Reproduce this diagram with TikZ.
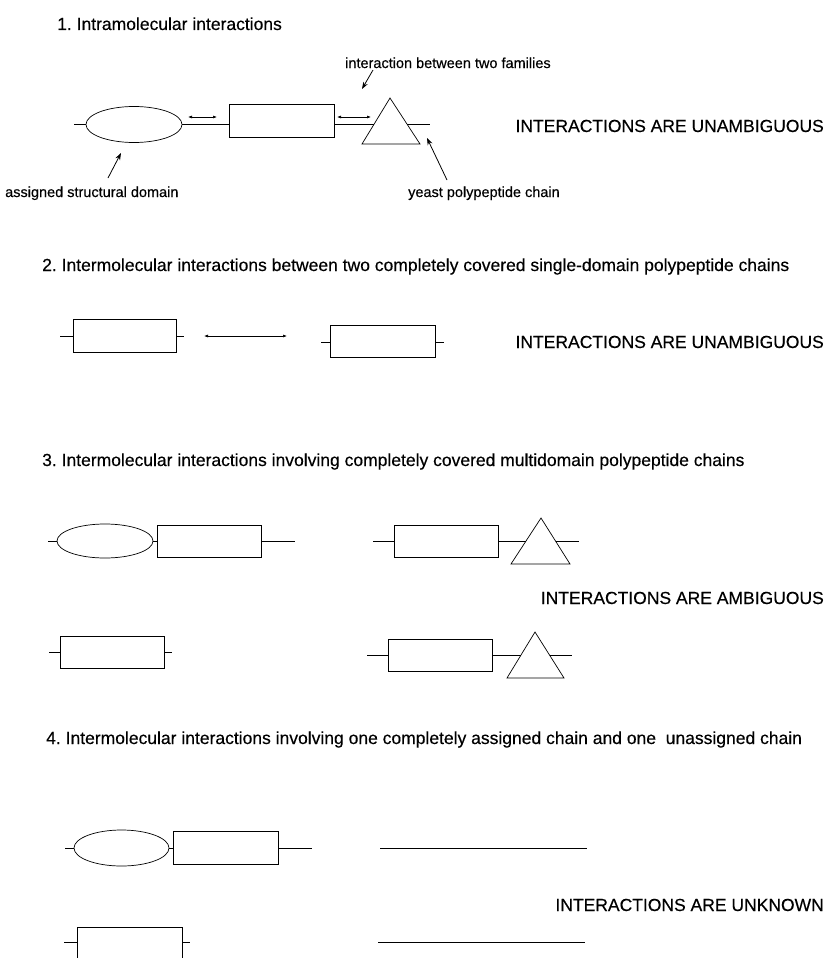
\documentclass[tikz,border=0pt]{standalone}
\usepackage{fontspec}
\setmainfont[FakeBold=0.35]{Liberation Sans}
\usetikzlibrary{shapes.geometric,arrows.meta}
\frenchspacing
\tikzset{
  px/.style={x=1pt,y=-1pt},
  chain/.style={line width=0.7pt},
  boxdom/.style={draw,line width=0.7pt,rectangle,inner sep=0pt,minimum width=#1},
  boxdom/.default=104pt,
  elldom/.style={draw,line width=0.7pt,ellipse,inner sep=0pt,minimum width=96pt,minimum height=35pt},
  tri/.style={draw,line width=0.7pt,line join=miter},
  title/.style={anchor=base west,inner sep=0pt,font=\fontsize{17.5}{20}\selectfont},
  verdict/.style={anchor=base east,inner sep=0pt,font=\fontsize{17.5}{20}\selectfont},
  lab/.style={anchor=base west,inner sep=0pt,font=\fontsize{14.5}{17}\selectfont},
  labarrow/.style={line width=0.8pt,-{Stealth[length=7pt,width=5pt]}},
  dblarrow/.style={line width=0.6pt,{Latex[length=4pt,width=3pt]}-{Latex[length=4pt,width=3pt]}}
}
\begin{document}
\begin{tikzpicture}[px]
\useasboundingbox (0,0) rectangle (831,958);
% ---------- Section 1 ----------
\node[title] (t1) at (57,30) {1. Intramolecular interactions};
\node[lab] (lfam) at (345,68) {interaction between two families};
\node[lab] (ldom) at (5,197) {assigned structural domain};
\node[lab] (lyea) at (408,197) {yeast polypeptide chain};
\node[verdict] (v1) at (824,132) {INTERACTIONS ARE UNAMBIGUOUS};
\node[elldom,minimum height=36pt] (e1) at (134,124.5) {};
\node[boxdom=105pt,minimum height=33pt] (r1) at (281.5,121) {};
\coordinate (t1a) at (390,98);
\coordinate (t1b) at (362,144);
\coordinate (t1c) at (420,144);
\draw[tri] (t1a) -- (t1b) -- (t1c) -- cycle;
\coordinate (t1l) at (374.2,124.5);
\coordinate (t1r) at (407,124.5);
\coordinate (c1s) at (74,124.5);
\coordinate (c1e) at (430,124.5);
\draw[chain] (c1s) -- (e1.west);
\draw[chain] (e1.east) -- (e1.east -| r1.west);
\draw[chain] (r1.east |- t1l) -- (t1l);
\draw[chain] (t1r) -- (c1e);
\coordinate (d1a) at (188,117);
\coordinate (d1b) at (217,117);
\coordinate (d2a) at (337,117);
\coordinate (d2b) at (371,117);
\draw[dblarrow] (d1a) -- (d1b);
\draw[dblarrow] (d2a) -- (d2b);
\coordinate (p1s) at (373,70);
\coordinate (p1e) at (362,89);
\draw[labarrow] (p1s) -- (p1e);
\coordinate (p2s) at (108,178);
\coordinate (p2e) at (121,153);
\draw[labarrow] (p2s) -- (p2e);
\coordinate (p3s) at (447,180);
\coordinate (p3e) at (427,138);
\draw[labarrow] (p3s) -- (p3e);
% ---------- Section 2 ----------
\node[title] (t2) at (42,271) {2. Intermolecular interactions between two completely covered single-domain polypeptide chains};
\node[verdict] (v2) at (824,348) {INTERACTIONS ARE UNAMBIGUOUS};
\node[boxdom=103pt,minimum height=33pt] (r2a) at (124.5,335.5) {};
\node[boxdom=105pt,minimum height=32pt] (r2b) at (382.5,341) {};
\coordinate (c2a) at (60,336);
\coordinate (c2b) at (184,336);
\coordinate (c2c) at (321,342);
\coordinate (c2d) at (444,342);
\draw[chain] (c2a) -- (c2a -| r2a.west);
\draw[chain] (c2b -| r2a.east) -- (c2b);
\draw[chain] (c2c) -- (c2c -| r2b.west);
\draw[chain] (c2d -| r2b.east) -- (c2d);
\coordinate (d3a) at (204,336);
\coordinate (d3b) at (287,336);
\draw[dblarrow] (d3a) -- (d3b);
% ---------- Section 3 ----------
\node[title] (t3) at (42,466) {3. Intermolecular interactions involving completely covered multidomain polypeptide chains};
\node[verdict] (v3) at (824,604) {INTERACTIONS ARE AMBIGUOUS};
% row 1 left
\node[elldom,minimum height=34pt] (e3a) at (105,541) {};
\node[boxdom=104pt,minimum height=32pt] (r3a) at (209,541) {};
\coordinate (c3a) at (48,541);
\coordinate (c3b) at (295,541);
\draw[chain] (c3a) -- (e3a.west);
\draw[chain] (e3a.east) -- (r3a.west);
\draw[chain] (r3a.east) -- (c3b);
% row 1 right
\node[boxdom=104pt,minimum height=32pt] (r3b) at (446,541) {};
\coordinate (t3a) at (541,518);
\coordinate (t3b) at (511,564);
\coordinate (t3c) at (570,564);
\draw[tri] (t3a) -- (t3b) -- (t3c) -- cycle;
\coordinate (t3l) at (526,541);
\coordinate (t3r) at (555.5,541);
\coordinate (c3c) at (373,541);
\coordinate (c3d) at (579,541);
\draw[chain] (c3c) -- (r3b.west);
\draw[chain] (r3b.east) -- (t3l);
\draw[chain] (t3r) -- (c3d);
% row 2 left
\node[boxdom=104pt,minimum height=32pt] (r3c) at (112,652) {};
\coordinate (c3e) at (49,652);
\coordinate (c3f) at (172,652);
\draw[chain] (c3e) -- (r3c.west);
\draw[chain] (r3c.east) -- (c3f);
% row 2 right
\node[boxdom=104pt,minimum height=32pt] (r3d) at (440,655) {};
\coordinate (t4a) at (535,632);
\coordinate (t4b) at (507,678);
\coordinate (t4c) at (564,678);
\draw[tri] (t4a) -- (t4b) -- (t4c) -- cycle;
\coordinate (t4l) at (521,655);
\coordinate (t4r) at (549.5,655);
\coordinate (c3g) at (367,655);
\coordinate (c3h) at (572,655);
\draw[chain] (c3g) -- (r3d.west);
\draw[chain] (r3d.east) -- (t4l);
\draw[chain] (t4r) -- (c3h);
% ---------- Section 4 ----------
\node[title] (t4) at (46,744) {4. Intermolecular interactions involving one completely assigned chain and one\ \ unassigned chain};
\node[verdict] (v4) at (824,911) {INTERACTIONS ARE UNKNOWN};
\node[elldom,minimum width=95pt,minimum height=36pt] (e4a) at (121.5,848) {};
\node[boxdom=105pt,minimum height=33pt] (r4a) at (225.5,847.5) {};
\coordinate (c4a) at (65,848);
\coordinate (c4b) at (312,848);
\draw[chain] (c4a) -- (e4a.west);
\draw[chain] (e4a.east) -- (e4a.east -| r4a.west);
\draw[chain] (c4b -| r4a.east) -- (c4b);
\coordinate (u1a) at (380,848);
\coordinate (u1b) at (587,848);
\draw[chain] (u1a) -- (u1b);
\node[boxdom=105pt,minimum height=36pt] (r4b) at (129.5,945) {};
\coordinate (c4c) at (64,942);
\coordinate (c4d) at (190,942);
\draw[chain] (c4c) -- (c4c -| r4b.west);
\draw[chain] (c4d -| r4b.east) -- (c4d);
\coordinate (u2a) at (378,942);
\coordinate (u2b) at (585,942);
\draw[chain] (u2a) -- (u2b);
\end{tikzpicture}
\end{document}
